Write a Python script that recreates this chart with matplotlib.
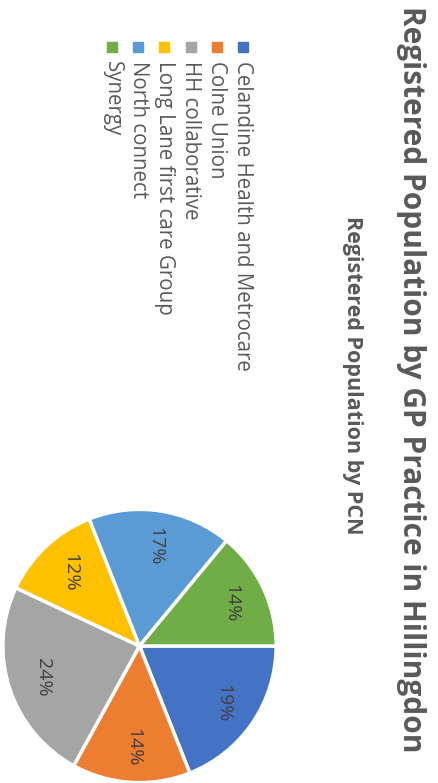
import matplotlib.pyplot as plt
from matplotlib.patches import Rectangle

pcn_names = ["Celandine Health and Metrocare", "Colne Union", "HH collaborative",
             "Long Lane first care Group", "North connect", "Synergy"]
shares = [19, 14, 24, 12, 17, 14]
colors = ["#4472C4", "#ED7D31", "#A5A5A5", "#FFC000", "#5B9BD5", "#70AD47"]

title = "Registered Population by GP Practice in Hillingdon"
subtitle = "Registered Population by PCN"

W, H = 439, 783
fig = plt.figure(figsize=(W / 100, H / 100), dpi=100)

# overlay in pixel coords for the rotated texts and legend
bg = fig.add_axes([0, 0, 1, 1])
bg.set_xlim(0, W)
bg.set_ylim(H, 0)
bg.axis("off")

bg.text(411, 379, title, rotation=-90, ha="center", va="center",
        fontsize=21.5, fontweight="bold", color="#595959", family="Open Sans")
bg.text(352, 375, subtitle, rotation=-90, ha="center", va="center",
        fontsize=15.5, fontweight="bold", color="#595959", family="Open Sans")

# legend (rotated, one column going right to left)
for i, (name, c) in enumerate(zip(pcn_names, colors)):
    x = 243 - i * 26.2
    bg.add_patch(Rectangle((x - 5, 42), 10, 10, color=c))
    bg.text(x, 61, name, rotation=-90, ha="center", va="top",
            fontsize=14.8, color="#595959", family="Open Sans")

# pie
cx, cy, r = 139.5, 646, 138
ax = fig.add_axes([(cx - r) / W, (H - cy - r) / H, 2 * r / W, 2 * r / H])
wedges, _, autotexts = ax.pie(shares, colors=colors, startangle=0, counterclock=False,
                              autopct="%d%%", pctdistance=0.74,
                              wedgeprops=dict(edgecolor="white", linewidth=2.5))
for t in autotexts:
    t.set_rotation(-90)
    t.set_fontsize(14)
    t.set_color("#404040")
    t.set_family("Open Sans")
ax.set_xlim(-1.01, 1.01)
ax.set_ylim(-1.01, 1.01)
ax.set_aspect("equal")

fig.savefig("out.png", dpi=100)
